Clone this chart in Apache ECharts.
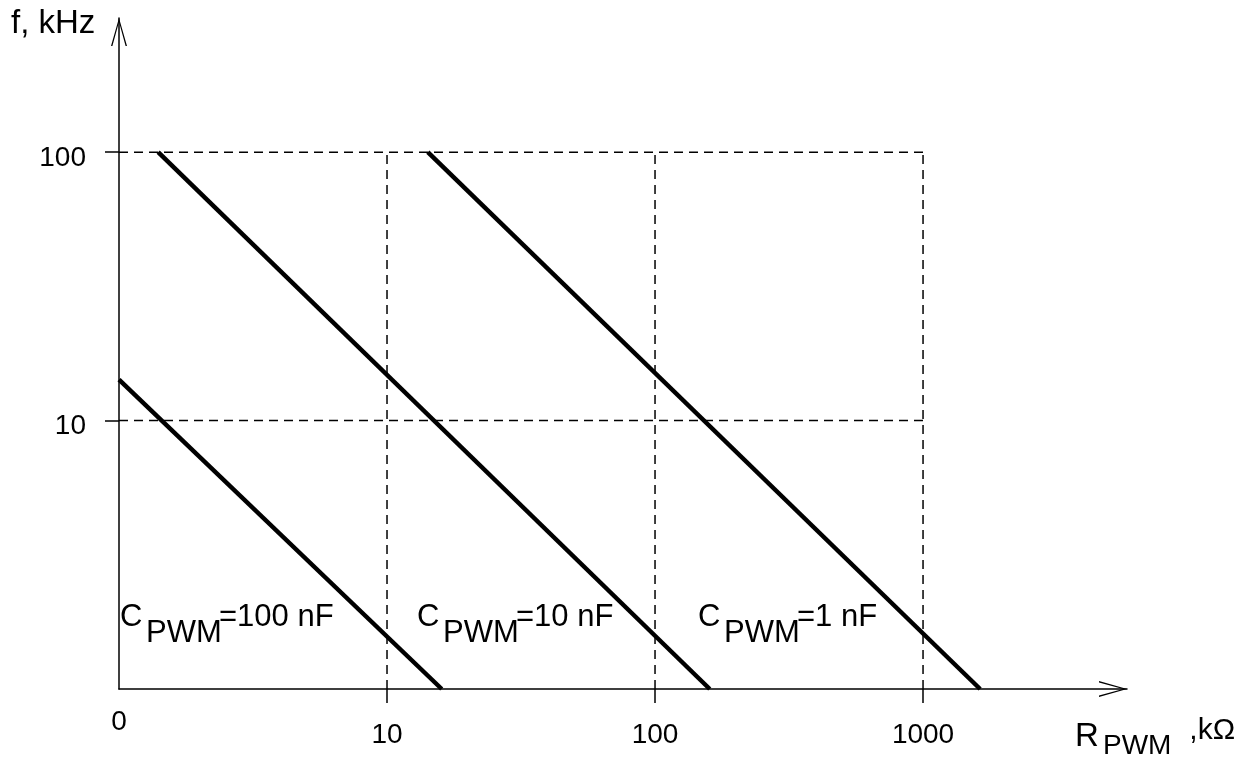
<!DOCTYPE html>
<html>
<head>
<meta charset="utf-8">
<script src="https://cdn.jsdelivr.net/npm/echarts@6/dist/echarts.min.js"></script>
<style>
  html, body { margin: 0; padding: 0; background: #fff; }
  #chart { width: 1255px; height: 760px; }
</style>
</head>
<body>
<div id="chart"></div>
<script>
// 数据：R 为 kΩ，f 为 kHz（对数坐标）
const capLabels = ['100 nF', '10 nF', '1 nF']
const line100nF = [[1, 14.2], [16.0, 1]]
const line10nF = [[1.40, 100], [160, 1]]
const line1nF = [[14.2, 100], [1633, 1]]
const xTicks = [1, 10, 100, 1000]
const xTickText = ['0', '10', '100', '1000']
const yTicks = [10, 100]
const xGrid = [10, 100, 1000]
const yGrid = [10, 100]

const FONT = '"Liberation Sans", Arial, sans-serif'
const chart = echarts.init(document.getElementById('chart'))

// 开口箭头（朝上，轴线会自动旋转）
const arrow = 'path://M8 0 L16 28 L14.6 28 L8 4 L1.4 28 L0 28 Z'

// 虚线网格只画在 1..1000 × 1..100 的框内
const boxTop = yGrid[yGrid.length - 1]
const boxRight = xGrid[xGrid.length - 1]
const gridSeries = []
xGrid.forEach(x => {
  gridSeries.push({ type: 'line', data: [[x, 1], [x, boxTop]] })
})
yGrid.forEach(y => {
  gridSeries.push({ type: 'line', data: [[1, y], [boxRight, y]] })
})
gridSeries.forEach(s => {
  s.symbol = 'none'
  s.silent = true
  s.lineStyle = { color: '#000', width: 1.5, type: [9, 6] }
})

const curves = [line100nF, line10nF, line1nF].map(d => ({
  type: 'line',
  data: d,
  symbol: 'none',
  lineStyle: { color: '#000', width: 4.5 }
}))

// C_PWM 标注
function capText (rest, left, top) {
  return {
    type: 'group',
    left: left,
    top: top,
    children: [
      { type: 'text', x: 0, y: 0, style: { text: 'C', font: '31px ' + FONT, fill: '#000' } },
      { type: 'text', x: 26, y: 16, style: { text: 'PWM', font: '31px ' + FONT, fill: '#000' } },
      { type: 'text', x: 99, y: 0, style: { text: '=' + rest, font: '31px ' + FONT, fill: '#000' } }
    ]
  }
}

const option = {
  animation: false,
  backgroundColor: '#fff',
  grid: { left: 119, right: 128, top: 18, bottom: 71 },
  xAxis: {
    type: 'log',
    min: 1,
    max: 5768,
    axisLine: {
      show: true,
      symbol: ['none', arrow],
      symbolSize: [16, 28],
      symbolOffset: [0, -14],
      lineStyle: { color: '#000', width: 1.5 }
    },
    axisTick: { show: true, customValues: xGrid, length: 14, inside: false, lineStyle: { color: '#000', width: 1.5 } },
    splitLine: { show: false },
    axisLabel: {
      customValues: xTicks,
      margin: 19,
      color: '#000',
      fontFamily: FONT,
      fontSize: 28,
      formatter: v => {
        const i = xTicks.indexOf(v)
        const t = i >= 0 ? xTickText[i] : ''
        return v === 1 ? '{o|' + t + '}' : '{n|' + t + '}'
      },
      rich: {
        o: { fontSize: 28, fontFamily: FONT, color: '#000' },
        n: { fontSize: 28, fontFamily: FONT, color: '#000', padding: [13, 0, 0, 0] }
      }
    }
  },
  yAxis: {
    type: 'log',
    min: 1,
    max: 316,
    axisLine: {
      show: true,
      symbol: ['none', arrow],
      symbolSize: [16, 28],
      symbolOffset: [0, -14],
      lineStyle: { color: '#000', width: 1.5 }
    },
    axisTick: { show: true, customValues: yGrid, length: 14, inside: false, lineStyle: { color: '#000', width: 1.5 } },
    splitLine: { show: false },
    axisLabel: {
      customValues: yTicks,
      margin: 33,
      color: '#000',
      formatter: v => '{a|' + v + '}',
      rich: {
        a: { fontSize: 28, fontFamily: FONT, color: '#000', padding: [12, 0, 0, 0] }
      }
    }
  },
  graphic: [
    { type: 'text', left: 11, top: 7, style: { text: 'f, kHz', font: '33px ' + FONT, fill: '#000' } },
    {
      type: 'group',
      left: 1075,
      top: 716,
      children: [
        { type: 'text', x: 0, y: 0, style: { text: 'R', font: '33px ' + FONT, fill: '#000' } },
        { type: 'text', x: 28, y: 12, style: { text: 'PWM', font: '28px ' + FONT, fill: '#000' } },
        { type: 'text', x: 106, y: -4, style: { text: ' ,kΩ', font: '30px ' + FONT, fill: '#000' } }
      ]
    },
    capText(capLabels[0], 120, 602),
    capText(capLabels[1], 417, 602),
    capText(capLabels[2], 698, 602)
  ],
  series: gridSeries.concat(curves)
}

chart.setOption(option)
window.addEventListener('resize', () => {
  chart.resize()
})
</script>
</body>
</html>
